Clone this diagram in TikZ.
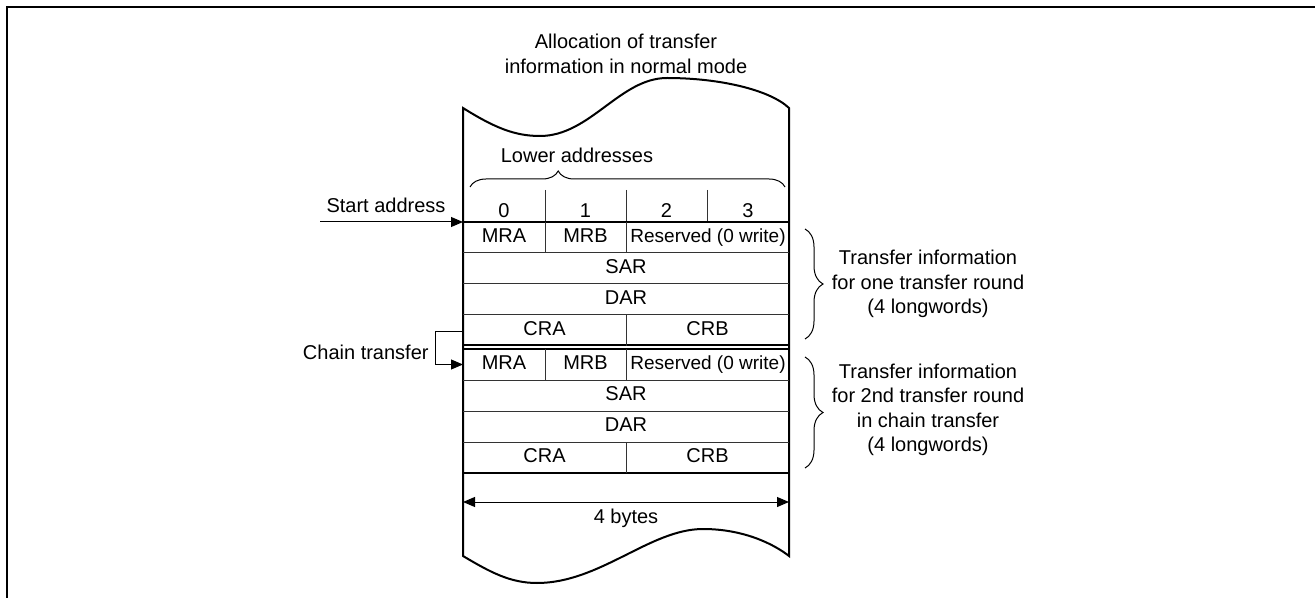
\documentclass[tikz,border=0pt]{standalone}
\usepackage{fontspec}
\setmainfont{Liberation Sans}
\usetikzlibrary{arrows.meta,decorations.pathreplacing}

\begin{document}
\begin{tikzpicture}[x=0.5pt,y=-0.5pt,
    every node/.style={font=\fontsize{10}{12.2}\selectfont, inner sep=0pt, align=center},
    cell/.style={text height=7.2pt, text depth=2pt},
    frameline/.style={line width=1.25pt},
    boxline/.style={line width=1pt},
    cellline/.style={line width=0.5pt, black!80},
    arrowline/.style={line width=0.5pt, -{Triangle[length=6pt,width=5pt]}},
    curly/.style={decorate, decoration={brace, amplitude=#1}, line width=0.5pt}]
    \def\xl{463}
    \def\xr{789}

    \useasboundingbox (0,0) rectangle (1315,598);

    \draw[frameline] (1315,7) -| (7,598);



    % memory block with torn top and bottom
    \draw[boxline] (\xl,108) .. controls (495,128) and (515,136) .. (540,136)
      .. controls (590,136) and (620,78) .. (667,78)
      .. controls (720,78) and (770,90) .. (\xr,108) -- (\xr,556)
      .. controls (775,545) and (745,529) .. (703,529)
      .. controls (650,529) and (600,583) .. (537,583)
      .. controls (510,583) and (490,572) .. (\xl,556) -- cycle;

    \node (title) at (626,54) {Allocation of transfer\\information in normal mode};



    % lower address bytes
    \node (lower) at (577,155) {Lower addresses};

    \draw[curly=8pt, decoration={aspect=0.28}] (470,187) -- (785,187);

    \foreach \x in {545,626,707}
      \draw[cellline] (\x,190) -- (\x,222);

    \foreach \n/\x in {0/504,1/585.5,2/666.5,3/748}
      \node[cell] (byte\n) at (\x,212) {\n};



    % two rounds of transfer information
    \foreach \y in {253,284,315,380,411,442}
      \draw[cellline] (\xl,\y) -- (\xr,\y);

    \foreach \y in {222,345,349,473}
      \draw[boxline] (\xl,\y) -- (\xr,\y);

    \foreach \blk/\top in {A/222,B/349} {
      \draw[cellline] (545,\top) -- (545,{\top+31});
      \draw[cellline] (626,\top) -- (626,{\top+31});
      \draw[cellline] (626,{\top+93}) -- (626,{\top+124});

      \node[cell] (mra\blk) at (504,{\top+15.5}) {MRA};
      \node[cell] (mrb\blk) at (585.5,{\top+15.5}) {MRB};
      \node[cell, font=\fontsize{9.5}{11}\selectfont] (rsv\blk) at (708,{\top+15.5}) {Reserved (0 write)};
      \node[cell] (sar\blk) at (626,{\top+46.5}) {SAR};
      \node[cell] (dar\blk) at (626,{\top+77.5}) {DAR};
      \node[cell] (cra\blk) at (544.5,{\top+108}) {CRA};
      \node[cell] (crb\blk) at (707.5,{\top+108}) {CRB};
    }



    % start address and chain transfer
    \node (start) at (386,205) {Start address};

    \coordinate (startTail) at (320,222);
    \coordinate (rowA) at (\xl,222);
    \draw[arrowline] (startTail) -- (rowA);

    \node[anchor=east] (chain) at (429,352) {Chain transfer};

    \coordinate (chainOut) at (\xl,331);
    \coordinate (chainIn) at (\xl,364.5);
    \draw[arrowline] (chainOut) -- (435,331) |- (chainIn);



    % braces on the right
    \draw[curly=9pt] (805,229) -- (805,339);

    \node (infoA) at (928,284)
    {Transfer information\\for one transfer round\\(4 longwords)};

    \draw[curly=9pt] (805,357) -- (805,468);

    \node (infoB) at (928,410)
    {Transfer information\\for 2nd transfer round\\in chain transfer\\(4 longwords)};



    % width of one longword
    \coordinate (widthL) at (\xl,502);
    \coordinate (widthR) at (\xr,502);
    \draw[line width=0.5pt, {Triangle[length=6pt,width=5pt]}-{Triangle[length=6pt,width=5pt]}]
      (widthL) -- (widthR);

    \node (bytes) at (626,518) {4 bytes};
  \end{tikzpicture}
\end{document}
